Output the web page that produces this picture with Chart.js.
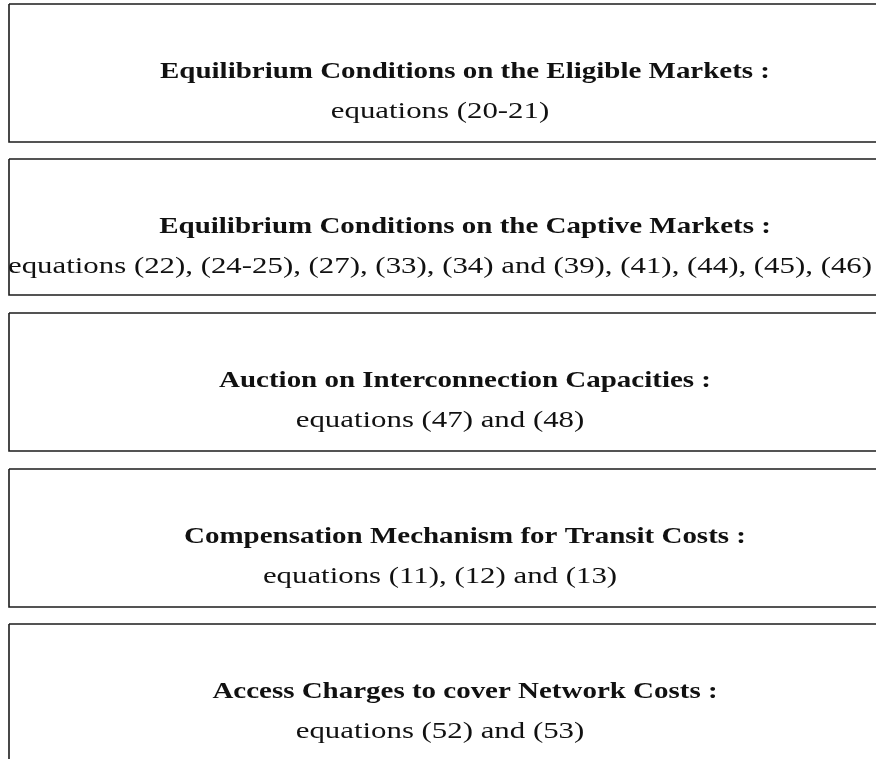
<!DOCTYPE html>
<html>
<head>
<meta charset="utf-8">
<script src="https://cdn.jsdelivr.net/npm/chart.js@4.4.0/dist/chart.umd.min.js"></script>
<style>
  html, body { margin: 0; padding: 0; background: #fff; }
  #diagram { display: block; }
</style>
</head>
<body>
<canvas id="diagram" width="876" height="759"></canvas>
<script>
var titles = [
  'Equilibrium Conditions on the Eligible Markets :',
  'Equilibrium Conditions on the Captive Markets :',
  'Auction on Interconnection Capacities :',
  'Compensation Mechanism for Transit Costs :',
  'Access Charges to cover Network Costs :'
];
var subtitles = [
  'equations (20-21)',
  'equations (22), (24-25), (27), (33), (34) and (39), (41), (44), (45), (46)',
  'equations (47) and (48)',
  'equations (11), (12) and (13)',
  'equations (52) and (53)'
];
// box extents in page units (the page runs 0..876 across, 0..759 down)
var boxTop = [4, 159, 313, 469, 624];
var boxBottom = [142, 295, 451, 607, 790];
var boxLeft = [9, 9, 9, 9, 9];
var boxRight = [930, 930, 930, 930, 930];

var titleX = 465, subX = 440;
var titleDy = 68, subDy = 108;
// widths of the longest bold and regular lines, used to stretch the serif face a bit
var boldRef = 610, regRef = 864;

var datasets = titles.map(function (t, i) {
  return {
    label: t,
    data: [
      { x: boxLeft[i], y: boxTop[i] },
      { x: boxRight[i], y: boxTop[i] },
      { x: boxRight[i], y: boxBottom[i] },
      { x: boxLeft[i], y: boxBottom[i] },
      { x: boxLeft[i], y: boxTop[i] }
    ],
    showLine: true,
    borderColor: '#1c1c1c',
    borderWidth: 1.6,
    pointRadius: 0,
    fill: false,
    tension: 0
  };
});

function drawStretched(ctx, text, x, y, sx) {
  ctx.save();
  ctx.translate(x, y);
  ctx.scale(sx, 1);
  ctx.fillText(text, 0, 0);
  ctx.restore();
}

var boxText = {
  id: 'boxText',
  afterDatasetsDraw: function (chart) {
    var ctx = chart.ctx, xs = chart.scales.x, ys = chart.scales.y;
    var boldFont = 'bold 23px "Liberation Serif"', regFont = '23px "Liberation Serif"';
    ctx.save();
    ctx.fillStyle = '#111';
    ctx.textAlign = 'center';
    ctx.textBaseline = 'middle';
    ctx.font = boldFont;
    var sb = boldRef / ctx.measureText(titles[0]).width;
    ctx.font = regFont;
    var sr = regRef / ctx.measureText(subtitles[1]).width;
    titles.forEach(function (t, i) {
      ctx.font = boldFont;
      drawStretched(ctx, t, xs.getPixelForValue(titleX), ys.getPixelForValue(boxTop[i] + titleDy), sb);
      ctx.font = regFont;
      drawStretched(ctx, subtitles[i], xs.getPixelForValue(subX), ys.getPixelForValue(boxTop[i] + subDy), sr);
    });
    ctx.restore();
  }
};

new Chart(document.getElementById('diagram').getContext('2d'), {
  type: 'scatter',
  data: { datasets: datasets },
  options: {
    responsive: false,
    animation: false,
    layout: { padding: 0 },
    plugins: { legend: { display: false }, tooltip: { enabled: false } },
    scales: {
      x: { type: 'linear', min: 0, max: 876, display: false },
      y: { type: 'linear', min: 0, max: 759, reverse: true, display: false }
    }
  },
  plugins: [boxText]
});
</script>
</body>
</html>
